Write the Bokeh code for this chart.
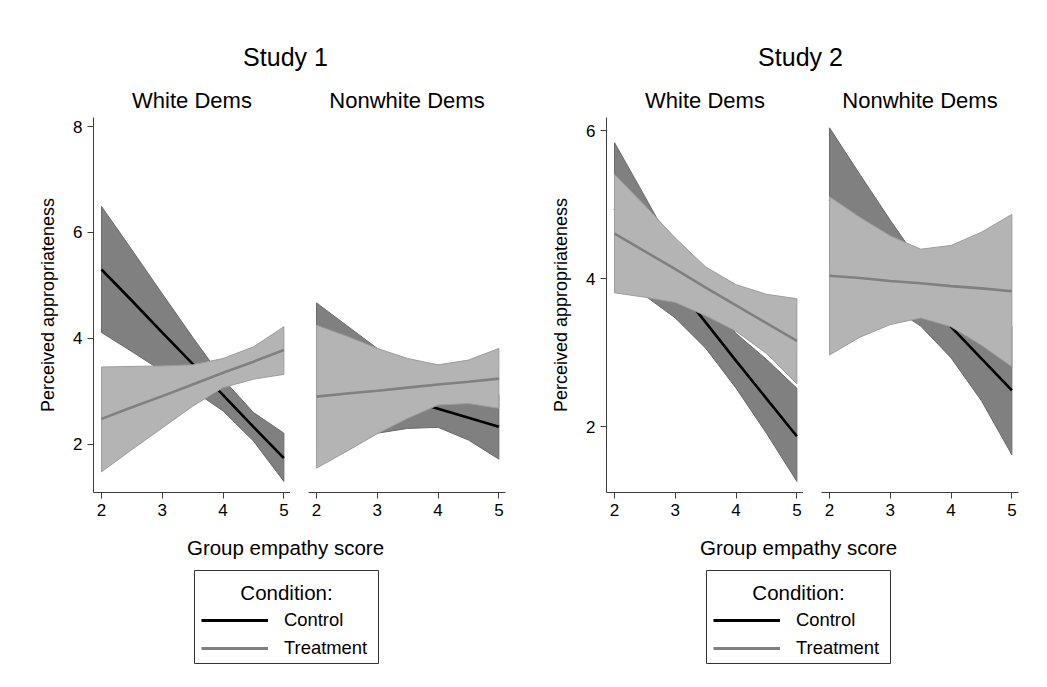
from bokeh.plotting import figure
from bokeh.layouts import row, column
from bokeh.models import Range1d, Label, BoxAnnotation, Legend, LegendItem, FixedTicker, Spacer
from bokeh.embed import file_html
from bokeh.resources import INLINE

FONT = "Liberation Sans"

# Group empathy score grid at which the fitted values were read
x_pts = [2, 2.5, 3, 3.5, 4, 4.5, 5]

# Study 1 - White Dems
s1w_ctrl_fit = [5.30, 4.71, 4.11, 3.52, 2.93, 2.33, 1.74]
s1w_ctrl_hi = [6.49, 5.67, 4.84, 4.02, 3.23, 2.60, 2.21]
s1w_ctrl_lo = [4.11, 3.75, 3.38, 3.02, 2.63, 2.06, 1.30]
s1w_trt_fit = [2.48, 2.70, 2.91, 3.13, 3.35, 3.56, 3.78]
s1w_trt_hi = [3.46, 3.47, 3.48, 3.50, 3.62, 3.84, 4.22]
s1w_trt_lo = [1.48, 1.90, 2.31, 2.72, 3.07, 3.23, 3.32]

# Study 1 - Nonwhite Dems
s1n_ctrl_fit = [3.35, 3.18, 3.01, 2.84, 2.67, 2.50, 2.33]
s1n_ctrl_hi = [4.67, 4.24, 3.81, 3.38, 3.02, 2.92, 2.94]
s1n_ctrl_lo = [2.03, 2.12, 2.21, 2.30, 2.32, 2.08, 1.72]
s1n_trt_fit = [2.90, 2.96, 3.01, 3.07, 3.13, 3.18, 3.24]
s1n_trt_hi = [4.25, 4.04, 3.81, 3.62, 3.50, 3.59, 3.81]
s1n_trt_lo = [1.55, 1.87, 2.20, 2.49, 2.74, 2.77, 2.68]

# Study 2 - White Dems
s2w_ctrl_fit = [4.95, 4.44, 3.92, 3.41, 2.89, 2.38, 1.87]
s2w_ctrl_hi = [5.84, 5.11, 4.37, 3.76, 3.26, 2.91, 2.52]
s2w_ctrl_lo = [4.06, 3.77, 3.47, 3.06, 2.52, 1.91, 1.26]
s2w_trt_fit = [4.61, 4.37, 4.13, 3.88, 3.64, 3.40, 3.16]
s2w_trt_hi = [5.41, 4.99, 4.55, 4.16, 3.92, 3.79, 3.73]
s2w_trt_lo = [3.81, 3.75, 3.68, 3.50, 3.29, 2.99, 2.58]

# Study 2 - Nonwhite Dems
s2n_ctrl_fit = [5.07, 4.64, 4.21, 3.78, 3.35, 2.92, 2.49]
s2n_ctrl_hi = [6.04, 5.41, 4.79, 4.20, 3.77, 3.49, 3.36]
s2n_ctrl_lo = [4.10, 3.87, 3.63, 3.36, 2.93, 2.35, 1.62]
s2n_trt_fit = [4.04, 4.01, 3.97, 3.94, 3.90, 3.87, 3.83]
s2n_trt_hi = [5.11, 4.83, 4.58, 4.40, 4.45, 4.63, 4.87]
s2n_trt_lo = [2.97, 3.21, 3.38, 3.47, 3.35, 3.10, 2.81]

x_ticks = [2, 3, 4, 5]
s1_y_ticks = [2, 4, 6, 8]
s2_y_ticks = [2, 4, 6]

study_titles = ["Study 1", "Study 2"]
panel_titles = ["White Dems", "Nonwhite Dems"]
x_title = "Group empathy score"
y_title = "Perceived appropriateness"
legend_title = "Condition:"
legend_labels = ["Control", "Treatment"]

DARK = "#808080"
DARK_EDGE = "#6a6a6a"
LIGHT = "#b4b4b4"
LIGHT_EDGE = "#9c9c9c"
TRT_LINE = "#808080"
AXIS = "#3c3c3c"

PANEL_H = 413


def panel(cf, ch, cl, tf, th, tl, yr, yticks, width, left, right, show_y):
    p = figure(width=width, height=PANEL_H, x_range=Range1d(1.868, 5.109), y_range=Range1d(*yr),
               output_backend="svg", toolbar_location=None,
               min_border_left=left, min_border_right=right, min_border_top=0, min_border_bottom=38)
    p.patch(x_pts + x_pts[::-1], ch + cl[::-1], fill_color=DARK, line_color=DARK_EDGE, line_width=1)
    p.line(x_pts, cf, line_color="black", line_width=2.6)
    p.patch(x_pts + x_pts[::-1], th + tl[::-1], fill_color=LIGHT, line_color=LIGHT_EDGE, line_width=1)
    p.line(x_pts, tf, line_color=TRT_LINE, line_width=2.6)
    p.xgrid.visible = False
    p.ygrid.visible = False
    p.outline_line_color = None
    p.background_fill_color = "white"
    p.border_fill_color = "white"
    p.xaxis.ticker = FixedTicker(ticks=x_ticks)
    p.yaxis.ticker = FixedTicker(ticks=yticks)
    for ax in p.axis:
        ax.axis_line_color = AXIS
        ax.axis_line_width = 1
        ax.major_tick_line_color = AXIS
        ax.minor_tick_line_color = None
        ax.major_tick_out = 6
        ax.major_tick_in = 0
        ax.major_label_text_font = FONT
        ax.major_label_text_font_size = "17px"
        ax.major_label_text_color = "black"
        ax.major_label_standoff = 5
    if show_y:
        p.yaxis.axis_label = y_title
        p.yaxis.axis_label_text_font = FONT
        p.yaxis.axis_label_text_font_size = "18px"
        p.yaxis.axis_label_text_font_style = "normal"
        p.yaxis.axis_label_text_color = "black"
        p.yaxis.axis_label_standoff = 12
    else:
        p.yaxis.visible = False
    return p


def blank(w, h):
    p = figure(width=w, height=h, x_range=Range1d(0, w), y_range=Range1d(h, 0),
               output_backend="svg", toolbar_location=None, min_border=0,
               x_axis_type=None, y_axis_type=None)
    p.outline_line_color = None
    p.background_fill_color = "white"
    p.border_fill_color = "white"
    return p


def text(p, x, y, s, size):
    p.add_layout(Label(x=x, y=y, text=s, text_align="center", text_baseline="middle",
                       text_font=FONT, text_font_size=size, text_color="black"))


def header(w, title, tx, px):
    h = blank(w, 109)
    text(h, tx, 48, title, "25px")
    text(h, px[0], 92, panel_titles[0], "22px")
    text(h, px[1], 92, panel_titles[1], "22px")
    return h


def footer(w, cx):
    f = blank(w, 141)
    text(f, cx, 17, x_title, "20.5px")
    f.add_layout(BoxAnnotation(left=186, right=370, top=40, bottom=133, fill_alpha=0,
                               line_color="#333333", line_width=1, line_alpha=1))
    text(f, 278, 62, legend_title, "20.5px")
    # legend-only renderers, kept outside the visible range of this canvas
    r1 = f.line(x=[-50, -40], y=[-50, -50], line_color="black", line_width=3)
    r2 = f.line(x=[-50, -40], y=[-60, -60], line_color=TRT_LINE, line_width=3)
    leg = Legend(items=[LegendItem(label=legend_labels[0], renderers=[r1]),
                        LegendItem(label=legend_labels[1], renderers=[r2])],
                 location=(193, 9), padding=0, margin=0, spacing=0,
                 glyph_width=67, glyph_height=28, label_height=28, label_standoff=16,
                 label_text_font=FONT, label_text_font_size="18.4px", label_text_color="black",
                 border_line_color=None, background_fill_alpha=0)
    f.add_layout(leg)
    return f


p1 = panel(s1w_ctrl_fit, s1w_ctrl_hi, s1w_ctrl_lo, s1w_trt_fit, s1w_trt_hi, s1w_trt_lo,
           (1.09, 8.17), s1_y_ticks, 282, 85, 0, True)
p2 = panel(s1n_ctrl_fit, s1n_ctrl_hi, s1n_ctrl_lo, s1n_trt_fit, s1n_trt_hi, s1n_trt_lo,
           (1.09, 8.17), s1_y_ticks, 230, 18, 15, False)
p3 = panel(s2w_ctrl_fit, s2w_ctrl_hi, s2w_ctrl_lo, s2w_trt_fit, s2w_trt_hi, s2w_trt_lo,
           (1.11, 6.18), s2_y_ticks, 283, 86, 0, True)
p4 = panel(s2n_ctrl_fit, s2n_ctrl_hi, s2n_ctrl_lo, s2n_trt_fit, s2n_trt_hi, s2n_trt_lo,
           (1.11, 6.18), s2_y_ticks, 227, 18, 12, False)

col1 = column(header(512, study_titles[0], 277, (183.5, 398.5)), row(p1, p2), footer(512, 277))
col2 = column(header(510, study_titles[1], 280, (184.5, 399.5)), row(p3, p4), footer(510, 278))
root = column(Spacer(width=1030, height=8), row(Spacer(width=8, height=663), col1, col2))

open("out.html", "w").write(file_html(root, INLINE))
